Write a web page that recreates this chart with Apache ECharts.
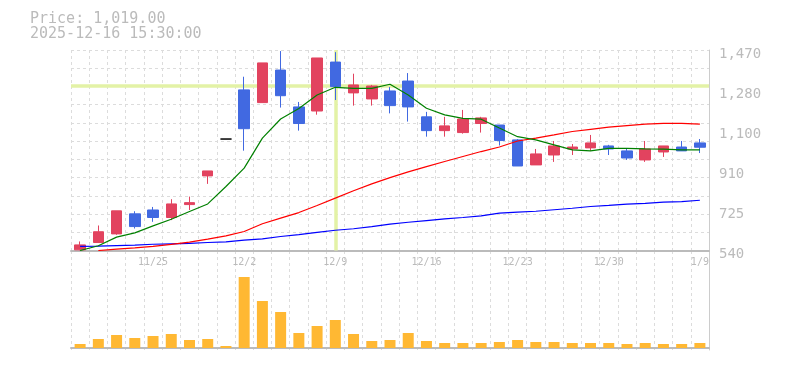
<!DOCTYPE html>
<html>
<head>
<meta charset="utf-8">
<script src="https://cdn.jsdelivr.net/npm/echarts@6/dist/echarts.min.js"></script>
<style>html,body{margin:0;padding:0;background:#fff;}#c{width:785px;height:370px;}</style>
</head>
<body>
<div id="c"></div>
<script>
// ---- data ----
const dates = ['11/18','11/19','11/20','11/21','11/25','11/26','11/27','11/28','12/1','12/2',
  '12/3','12/4','12/5','12/8','12/9','12/10','12/11','12/12','12/15','12/16',
  '12/17','12/18','12/19','12/22','12/23','12/24','12/25','12/26','12/29','12/30',
  '1/5','1/6','1/7','1/8','1/9'];
const shownDates = ['11/25','12/2','12/9','12/16','12/23','12/30','1/9'];
const opens  = [543,577,617,710,728,693,753,886,1057,1285,1226,1377,1206,1187,1414,1271,1243,1280,1326,1160,1096,1087,1129,1122,1053,937,983,1011,1016,1025,1002,960,997,1020,1039];
const closes = [566,627,724,651,693,756,762,909,1057,1105,1410,1258,1129,1433,1300,1308,1303,1212,1206,1096,1118,1150,1155,1050,932,988,1025,1020,1039,1011,969,1011,1025,1002,1019];
const lows   = [541,575,613,642,673,681,728,849,1057,1003,1226,1203,1096,1170,1238,1212,1212,1176,1138,1068,1068,1082,1087,1027,932,937,951,983,1002,983,960,951,974,1002,992];
const highs  = [582,656,724,722,742,778,790,909,1057,1346,1410,1465,1229,1433,1460,1360,1308,1298,1363,1183,1160,1192,1160,1122,1057,1011,1048,1034,1076,1030,1011,1048,1025,1048,1057];
const maShort = [540,562,602,622,654,685,721,756,837,922,1061,1150,1199,1261,1297,1292,1292,1311,1261,1200,1169,1153,1149,1108,1068,1053,1030,1007,1002,1014,1014,1011,1010,1007,1007];
const maMid   = [null,540,546,552,559,568,579,593,608,628,664,690,716,749,783,817,849,878,905,929,953,976,999,1020,1048,1061,1076,1092,1102,1112,1119,1126,1130,1130,1126];
const maLong  = [559,560,563,565,569,571,573,577,580,588,594,605,614,624,634,641,651,662,671,679,687,693,701,713,718,722,729,736,744,749,755,759,764,767,773];
const volumes = [120,270,390,300,360,420,240,270,60,2130,1410,1080,450,660,840,420,210,240,450,210,150,150,150,180,240,180,180,150,150,150,120,150,120,120,150];
const yTickLabels = ['540','725','910','1,100','1,280','1,470'];
const priceMin = 540, priceMax = 1470;
const crossDate = '12/9', crossPrice = 1303;
const titleLines = ['Price: 1,019.00', '2025-12-16 15:30:00'];

// ---- chart ----
const FONT = '"DejaVu Sans Mono", "Liberation Mono", monospace';
const candleData = dates.map((d, i) => [opens[i], closes[i], lows[i], highs[i]]);
const gridLine = {show: true, lineStyle: {color: '#dcdcdc', type: [3, 3], width: 1}};
const chart = echarts.init(document.getElementById('c'), null, {renderer: 'canvas'});
chart.setOption({
  animation: false,
  backgroundColor: '#fff',
  title: {
    text: titleLines.join('\n'), left: 30, top: 12, padding: 0,
    textStyle: {fontFamily: FONT, fontSize: 15, lineHeight: 15, color: '#bbbbbb', fontWeight: 'normal'}
  },
  grid: [
    {left: 71, right: 76, top: 50, bottom: 119.5},
    {left: 71, right: 76, top: 251, bottom: 20},
    {left: 71, right: 76, top: 54, bottom: 116}
  ],
  xAxis: [
    {type: 'category', gridIndex: 0, data: dates, boundaryGap: true,
     axisLine: {lineStyle: {color: '#bbbbbb', width: 2}}, axisTick: {show: false},
     axisLabel: {interval: (i) => shownDates.indexOf(dates[i]) >= 0, color: '#bbbbbb', fontFamily: FONT, fontSize: 10, margin: 7},
     splitLine: Object.assign({interval: 0}, gridLine)},
    {type: 'category', gridIndex: 1, data: dates, boundaryGap: true,
     axisLine: {lineStyle: {color: '#bbbbbb', width: 2}}, axisTick: {show: false}, axisLabel: {show: false},
     splitLine: Object.assign({interval: 0}, gridLine)},
    {type: 'category', gridIndex: 2, data: dates, show: false}
  ],
  yAxis: [
    {type: 'value', gridIndex: 0, min: priceMin, max: priceMax, position: 'right',
     axisLine: {show: true, lineStyle: {color: '#cccccc'}}, axisTick: {show: false}, axisLabel: {show: false}, splitLine: {show: false}},
    {type: 'value', gridIndex: 2, min: 0, max: 5, interval: 1, position: 'right',
     axisLine: {show: false}, axisTick: {show: false},
     axisLabel: {formatter: (v) => yTickLabels[Math.round(v)], color: '#bbbbbb', fontFamily: FONT, fontSize: 14, margin: 10},
     splitLine: {show: false}},
    {type: 'value', gridIndex: 0, min: 0, max: 11, interval: 1, position: 'left',
     axisLine: {show: false}, axisTick: {show: false}, axisLabel: {show: false}, splitLine: gridLine},
    {type: 'value', gridIndex: 1, min: -60, max: 2910, position: 'right',
     axisLine: {show: true, lineStyle: {color: '#cccccc'}}, axisTick: {show: false}, axisLabel: {show: false}, splitLine: {show: false}}
  ],
  series: [
    {type: 'line', name: 'cross', xAxisIndex: 0, yAxisIndex: 0, data: [], z: 1, silent: true,
     markLine: {silent: true, z: 1, symbol: 'none', label: {show: false},
       lineStyle: {color: '#e3f2a6', width: 3.5, type: 'solid'},
       data: [{xAxis: crossDate}, {yAxis: crossPrice}]}},
    {type: 'candlestick', xAxisIndex: 0, yAxisIndex: 0, data: candleData, barWidth: 11, z: 3,
     itemStyle: {color: '#e2435f', color0: '#4169e1', borderColor: '#e2435f', borderColor0: '#4169e1', borderColorDoji: '#000000', borderWidth: 1}},
    {type: 'line', xAxisIndex: 0, yAxisIndex: 0, data: maLong, showSymbol: false, symbol: 'none', z: 4,
     lineStyle: {color: '#0000ff', width: 1.2}},
    {type: 'line', xAxisIndex: 0, yAxisIndex: 0, data: maMid, showSymbol: false, symbol: 'none', z: 4,
     lineStyle: {color: '#ff0000', width: 1.2}},
    {type: 'line', xAxisIndex: 0, yAxisIndex: 0, data: maShort, showSymbol: false, symbol: 'none', z: 4,
     lineStyle: {color: '#008000', width: 1.2}},
    {type: 'bar', xAxisIndex: 1, yAxisIndex: 3, data: volumes, barWidth: 11,
     itemStyle: {color: '#ffb833'}}
  ]
});
</script>
</body>
</html>
